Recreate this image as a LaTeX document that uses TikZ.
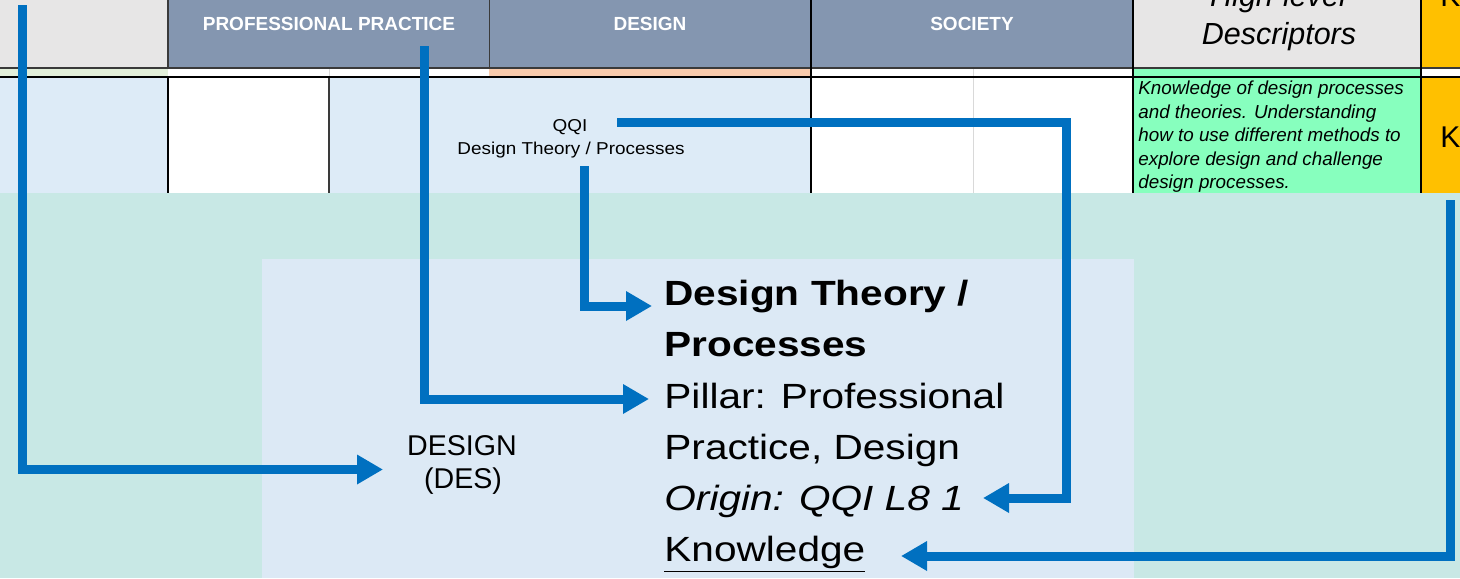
\documentclass[tikz,border=0pt]{standalone}
\usepackage{fontspec}
\setmainfont{Liberation Sans}
\newfontfamily\wideA[FakeStretch=1.1]{Liberation Sans}
\newfontfamily\wideB[FakeStretch=1.16]{Liberation Sans}
\usetikzlibrary{arrows.meta}
\definecolor{slate}{HTML}{8496B0}
\definecolor{hgray}{HTML}{E7E6E6}
\definecolor{rowblue}{HTML}{DDEBF7}
\definecolor{teal}{HTML}{C8E8E5}
\definecolor{boxblue}{HTML}{DCE9F5}
\definecolor{mint}{HTML}{87FFBE}
\definecolor{amber}{HTML}{FFC000}
\definecolor{peach}{HTML}{F8CBAD}
\definecolor{lgreen}{HTML}{E2EFDA}
\definecolor{arrblue}{HTML}{0070C0}
\definecolor{cellline}{HTML}{3A3A3A}
\tikzset{
  hdr/.style={font=\bfseries\fontsize{9.5}{11}\selectfont, text=white, anchor=base, inner sep=0pt},
  desc/.style={font=\itshape\fontsize{9.4}{11}\selectfont, anchor=base west, inner sep=0pt},
  bigtxt/.style={font=\wideB\fontsize{17.5}{20}\selectfont, anchor=base west, inner sep=0pt},
  midtxt/.style={font=\wideA\fontsize{8.6}{10}\selectfont, anchor=base, inner sep=0pt},
  destxt/.style={font=\fontsize{14.3}{16}\selectfont, anchor=base, inner sep=0pt},
  hdit/.style={font=\itshape\fontsize{15.25}{17}\selectfont, anchor=base, inner sep=0pt},
  kk/.style={font=\fontsize{15}{17}\selectfont, anchor=base west, inner sep=0pt},
  arr/.style={draw=arrblue, line width=4.5pt, -{Triangle[length=13pt,width=14pt]}},
  thick line/.style={draw=black, line width=1pt},
  thin line/.style={draw=cellline, line width=0.6pt},
  faint line/.style={draw=black!15, line width=0.5pt}
}
\begin{document}
\begin{tikzpicture}[x=0.5pt,y=-0.5pt]
\useasboundingbox (0,0) rectangle (1460,578);
\clip (0,0) rectangle (1460,578);
% header row
\fill[hgray] (0,0) rectangle (168,68);
\fill[slate] (168,0) rectangle (1133,68);
\fill[hgray] (1133,0) rectangle (1421,68);
\fill[amber] (1421,0) rectangle (1460,68);
% strip
\fill[lgreen] (0,68) rectangle (168,76);
\fill[white] (168,68) rectangle (489,76);
\fill[peach] (489,68) rectangle (811,76);
\fill[white] (811,68) rectangle (1133,76);
\fill[mint] (1133,68) rectangle (1421,76);
\fill[white] (1421,68) rectangle (1460,76);
% data row
\fill[rowblue] (0,77) rectangle (168,193);
\fill[white] (168,77) rectangle (329,193);
\fill[rowblue] (329,77) rectangle (811,193);
\fill[white] (811,77) rectangle (1133,193);
\fill[mint] (1133,77) rectangle (1421,193);
\fill[amber] (1421,77) rectangle (1460,193);
% grid lines
\draw[faint line] (329,68) -- (329,77);
\draw[faint line] (973,68) -- (973,193);
\draw[thin line] (0,68) -- (1460,68);
\draw[thin line] (168,0) -- (168,68);
\draw[thin line] (489.5,0) -- (489.5,68);
\draw[thin line] (329,77) -- (329,193);
\draw[thick line] (0,76.8) -- (1460,76.8);
\draw[thick line] (168,76.8) -- (168,193);
\draw[thick line] (811,0) -- (811,193);
\draw[thick line] (1133,0) -- (1133,193);
\draw[thick line] (1421,0) -- (1421,193);
% header texts
\node[hdr] (hpp) at (329,30) {PROFESSIONAL PRACTICE};
\node[hdr] (hdes) at (650,30) {DESIGN};
\node[hdr] (hsoc) at (972,30) {SOCIETY};
\node[hdit] (hhl) at (1278,6) {High-level};
\node[hdit] (hdsc) at (1279,44) {Descriptors};
\node[kk] (ktop) at (1440,6) {K};
% row texts
\node[midtxt] (qqi) at (570,131) {QQI};
\node[midtxt] (qqidt) at (571,154) {Design Theory / Processes};
\node[desc] (d1) at (1138,94.5) {Knowledge of design processes};
\node[desc] (d2) at (1138,118) {and theories. Understanding};
\node[desc] (d3) at (1138,141.5) {how to use different methods to};
\node[desc] (d4) at (1138,165) {explore design and challenge};
\node[desc] (d5) at (1138,188) {design processes.};
\node[kk] (krow) at (1440,147) {K};
% lower area
\fill[teal] (0,193) rectangle (1460,578);
\fill[boxblue] (262,259) rectangle (1134,578);
\node[destxt] (des1) at (462,455) {DESIGN};
\node[destxt] (des2) at (463,488) {(DES)};
\node[bigtxt] (l1) at (664,305) {\bfseries Design Theory /};
\node[bigtxt] (l2) at (664,356) {\bfseries Processes};
\node[bigtxt] (l3) at (664,408) {Pillar: Professional};
\node[bigtxt] (l4) at (664,459) {Practice, Design};
\node[bigtxt] (l5) at (664,510) {\itshape Origin: QQI L8 1};
\node[bigtxt] (l6) at (664,561) {\underline{Knowledge}};
% arrow end points
\coordinate (s1) at (22,5);
\coordinate (t1) at (383,469.5);
\coordinate (s2) at (424,46);
\coordinate (t2) at (649,399);
\coordinate (s3) at (584,166);
\coordinate (t3) at (652,306);
\coordinate (s4) at (617,122);
\coordinate (k4) at (1066,498);
\coordinate (t4) at (983,498);
\coordinate (s5) at (1450,200);
\coordinate (t5) at (901,556);
% arrows
\draw[arr] (s1) |- (t1);
\draw[arr] (s2) |- (t2);
\draw[arr] (s3) |- (t3);
\draw[arr] (s4) -| (k4) -- (t4);
\draw[arr] (s5) |- (t5);
\end{tikzpicture}
\end{document}
